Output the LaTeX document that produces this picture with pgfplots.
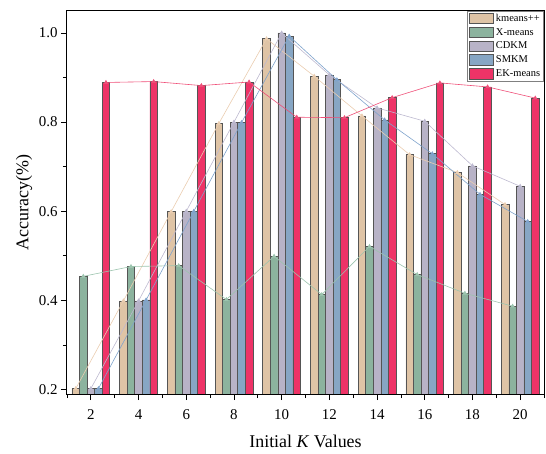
\documentclass[border=0pt]{standalone}
\usepackage{fontspec}
\setmainfont{Liberation Serif}
\usepackage{pgfplots}
\usepackage{pgfplotstable}
\pgfplotsset{compat=1.18}

\definecolor{ckpp}{HTML}{DFC4A6}
\definecolor{cxm}{HTML}{8CB39E}
\definecolor{ccd}{HTML}{B8B3C7}
\definecolor{csm}{HTML}{87A6C4}
\definecolor{cek}{HTML}{EE3367}
\definecolor{lkpp}{HTML}{EACDB0}
\definecolor{lxm}{HTML}{9CC4AE}
\definecolor{lcd}{HTML}{BDB9D0}
\definecolor{lsm}{HTML}{7FA3CC}
\definecolor{lek}{HTML}{EF4F78}
\definecolor{bardraw}{HTML}{555555}

\pgfplotstableread{
K   kpp   xm    cdkm  smkm  ek
2   0.202 0.454 0.202 0.202 0.889
4   0.399 0.476 0.399 0.401 0.891
6   0.599 0.478 0.600 0.600 0.882
8   0.797 0.402 0.800 0.799 0.890
10  0.987 0.499 1.000 0.993 0.811
12  0.903 0.413 0.906 0.895 0.810
14  0.814 0.521 0.832 0.805 0.855
16  0.727 0.458 0.802 0.729 0.888
18  0.687 0.416 0.702 0.638 0.879
20  0.615 0.387 0.656 0.577 0.854
}\data

\begin{document}
\begin{tikzpicture}
\begin{axis}[
  scale only axis, width=477bp, height=383.3bp,
  xmin=1, xmax=21, ymin=0.19, ymax=1.05,
  xtick={2,4,...,20}, minor xtick={1,3,...,21},
  ytick={0.2,0.4,0.6,0.8,1.0}, minor ytick={0.3,0.5,0.7,0.9},
  tick align=outside, xtick pos=bottom, ytick pos=left,
  major tick length=6bp, minor tick length=4bp,
  tick style={black, line width=0.8bp},
  axis line style={line width=1bp},
  /pgf/number format/assume math mode=true,
  yticklabel style={/pgf/number format/fixed, /pgf/number format/fixed zerofill, /pgf/number format/precision=1},
  ticklabel style={font=\fontsize{15}{17}\selectfont},
  xticklabel style={yshift=-6bp},
  xlabel={Initial \textit{K} Values}, ylabel={Accuracy(\%)},
  label style={font=\fontsize{18}{20}\selectfont},
  xlabel style={at={(axis description cs:0.5,-0.123)}, anchor=center},
  ylabel style={at={(axis description cs:-0.09,0.5)}, anchor=center},
  legend style={at={(1,1)}, anchor=north east, draw=gray, line width=0.8bp, fill=white,
    font=\fontsize{10.5}{12}\selectfont, inner xsep=1.5bp, inner ysep=1bp, row sep=1.4bp,
    cells={anchor=west}},
  legend image code/.code={\draw[#1, line width=0.6bp] (0bp,-5.3bp) rectangle (24bp,5.3bp);},
  every axis plot/.append style={line width=0.6bp},
]
\addplot[ybar, bar width=0.317, bar shift=-0.634, fill=ckpp, draw=bardraw] table[x=K, y=kpp]{\data};
\addplot[ybar, bar width=0.317, bar shift=-0.317, fill=cxm, draw=bardraw] table[x=K, y=xm]{\data};
\addplot[ybar, bar width=0.317, bar shift=0, fill=ccd, draw=bardraw] table[x=K, y=cdkm]{\data};
\addplot[ybar, bar width=0.317, bar shift=0.317, fill=csm, draw=bardraw] table[x=K, y=smkm]{\data};
\addplot[ybar, bar width=0.317, bar shift=0.634, fill=cek, draw=bardraw] table[x=K, y=ek]{\data};
\legend{kmeans++, X-means, CDKM, SMKM, EK-means}

\addplot[forget plot, sharp plot, color=lkpp, mark=triangle*, mark size=2bp] table[x expr=\thisrow{K}-0.634, y=kpp]{\data};
\addplot[forget plot, sharp plot, color=lxm, mark=triangle*, mark size=2bp] table[x expr=\thisrow{K}-0.317, y=xm]{\data};
\addplot[forget plot, sharp plot, color=lcd, mark=triangle*, mark size=2bp] table[x=K, y=cdkm]{\data};
\addplot[forget plot, sharp plot, color=lsm, mark=triangle*, mark size=2bp] table[x expr=\thisrow{K}+0.317, y=smkm]{\data};
\addplot[forget plot, sharp plot, color=lek, mark=triangle*, mark size=2bp] table[x expr=\thisrow{K}+0.634, y=ek]{\data};
\end{axis}
\pgfresetboundingbox
\path (-67bp,-60bp) rectangle (479bp,394bp);
\end{tikzpicture}
\end{document}
